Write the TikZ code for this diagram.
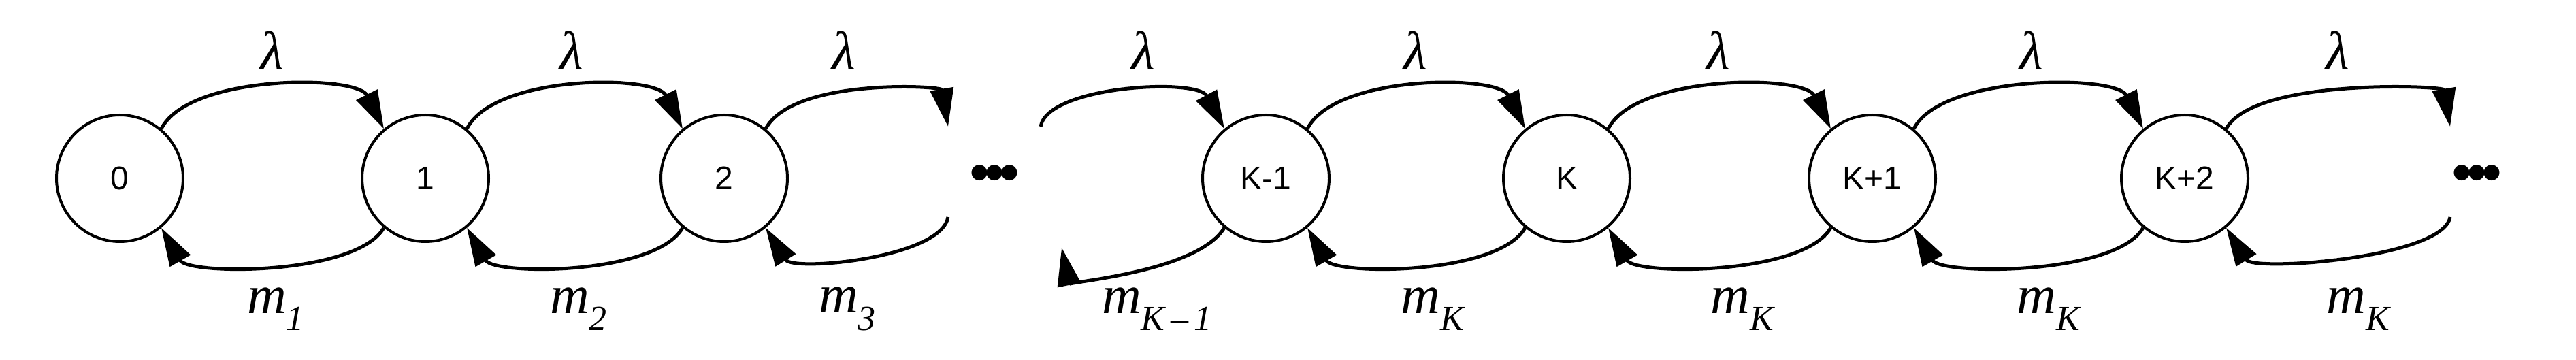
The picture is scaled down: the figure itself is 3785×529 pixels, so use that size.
\documentclass[tikz,border=0pt]{standalone}
\usepackage{fontspec}
\setsansfont{Liberation Sans}
\setmainfont{Liberation Serif}
\usetikzlibrary{arrows.meta}
\newcommand{\msub}[1]{\textit{m}\raisebox{-0.32em}{\fontsize{52}{52}\selectfont\itshape #1}}
\begin{document}
\begin{tikzpicture}[x=1pt,y=1pt,
  st/.style={circle,draw,line width=4pt,minimum size=186pt,inner sep=0pt,font=\sffamily\fontsize{48}{48}\selectfont},
  tr/.style={line width=5pt,-{Triangle[length=56pt,width=34pt]}},
  lab/.style={font=\fontsize{80}{80}\selectfont\itshape},
  dots/.style={font=\sffamily\bfseries\fontsize{80}{80}\selectfont,inner sep=0pt}]
\useasboundingbox (0,0) rectangle (3785,529);
\node[st] (n0) at (176,267) {0};
\node[st] (n1) at (625,267) {1};
\node[st] (n2) at (1064,267) {2};
\node[dots] (d1) at (1462,267) {\kern-2pt•\kern-6pt•\kern-6pt•};
\node[st] (k0) at (1860,267) {K-1};
\node[st] (k1) at (2302,267) {K};
\node[st] (k2) at (2751,267) {K+1};
\node[st] (k3) at (3210,267) {K+2};
\node[dots] (d2) at (3640,267) {\kern-2pt•\kern-6pt•\kern-6pt•};
\coordinate (a1) at (1393,343);
\coordinate (a2) at (1393,210);
\coordinate (b1) at (1529,343);
\coordinate (b2) at (1560,165);
\coordinate (c1) at (3600,343);
\coordinate (c2) at (3600,210);
\foreach \u/\v in {n0/n1,n1/n2,k0/k1,k1/k2,k2/k3}{
  \draw[tr] (\u.50) .. controls +(40,80) and +(-40,80) .. (\v.130);
  \draw[tr] (\v.-130) .. controls +(-40,-70) and +(40,-70) .. (\u.-50);
}
\draw[tr] (n2.50) .. controls +(40,75) and +(-10,60) .. (a1);
\draw[tr] (a2) .. controls +(-10,-60) and +(40,-65) .. (n2.-50);
\draw[tr] (b1) .. controls +(10,60) and +(-40,75) .. (k0.130);
\draw[tr] (k0.-130) .. controls +(-40,-65) and +(10,-50) .. (b2);
\draw[tr] (k3.50) .. controls +(40,75) and +(-10,60) .. (c1);
\draw[tr] (c2) .. controls +(-10,-60) and +(40,-65) .. (k3.-50);
\foreach \x/\n in {400/l1,840/l2,1240/l3,1680/l4,2080/l5,2525/l6,2985/l7,3435/l8}
  \node[lab] (\n) at (\x,455) {λ};
\node[lab] (m1) at (405,75) {\msub{1}};
\node[lab] (m2) at (850,75) {\msub{2}};
\node[lab] (m3) at (1245,75) {\msub{3}};
\node[lab] (m4) at (1700,75) {\msub{K\,–\,1}};
\node[lab] (m5) at (2105,75) {\msub{K}};
\node[lab] (m6) at (2560,75) {\msub{K}};
\node[lab] (m7) at (3010,75) {\msub{K}};
\node[lab] (m8) at (3465,75) {\msub{K}};
\end{tikzpicture}
\end{document}
